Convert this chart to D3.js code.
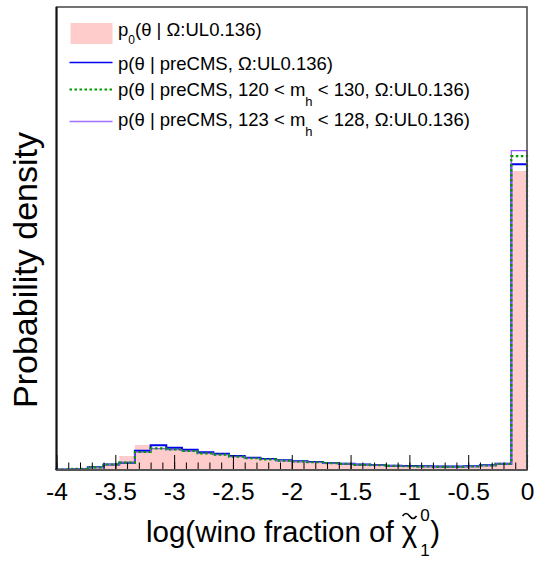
<!DOCTYPE html>
<html>
<head>
<meta charset="utf-8">
<script src="https://d3js.org/d3.v7.min.js"></script>
<style>
  body { margin: 0; background: #fff; }
  text { font-family: "Liberation Sans", Arial, sans-serif; }
</style>
</head>
<body>
<div id="chart"></div>
<script>
// 30 bins from -4 to 0 (log wino fraction)
var xMin = -4, xMax = 0, nBins = 30;

// probability density per bin
var prior   = [0.004, 0.011, 0.041, 0.081, 0.189, 0.338, 0.301, 0.284, 0.264, 0.230,
               0.209, 0.180, 0.155, 0.139, 0.126, 0.112, 0.101, 0.089, 0.081, 0.068,
               0.062, 0.054, 0.049, 0.045, 0.041, 0.041, 0.045, 0.057, 0.081, 4.041];
var preCMS  = [0.007, 0.014, 0.036, 0.074, 0.099, 0.261, 0.334, 0.301, 0.274, 0.239,
               0.220, 0.189, 0.166, 0.149, 0.131, 0.118, 0.108, 0.095, 0.086, 0.073,
               0.068, 0.059, 0.054, 0.050, 0.046, 0.046, 0.050, 0.064, 0.086, 4.131];
var mh120   = [0.007, 0.014, 0.036, 0.074, 0.099, 0.243, 0.291, 0.277, 0.257, 0.226,
               0.207, 0.180, 0.159, 0.143, 0.127, 0.115, 0.105, 0.092, 0.084, 0.070,
               0.065, 0.057, 0.051, 0.047, 0.043, 0.043, 0.047, 0.061, 0.084, 4.243];
var mh123   = [0.007, 0.014, 0.036, 0.074, 0.098, 0.242, 0.289, 0.276, 0.256, 0.225,
               0.206, 0.179, 0.158, 0.142, 0.127, 0.115, 0.104, 0.092, 0.083, 0.070,
               0.065, 0.056, 0.051, 0.047, 0.043, 0.043, 0.047, 0.061, 0.084, 4.315];

var xTicks = [-4, -3.5, -3, -2.5, -2, -1.5, -1, -0.5, 0];
var xTickLabels = ["-4", "-3.5", "-3", "-2.5", "-2", "-1.5", "-1", "-0.5", "0"];
var yMax = 6.257;

var W = 538, H = 564;
var margin = {top: 7, right: 11, bottom: 94, left: 56.5};

var svg = d3.select("#chart").append("svg")
    .attr("width", W).attr("height", H);

var x = d3.scaleLinear().domain([xMin, xMax]).range([margin.left, W - margin.right]);
var y = d3.scaleLinear().domain([0, yMax]).range([H - margin.bottom, margin.top]);

var binW = (xMax - xMin) / nBins;
function edges(vals) {
    // step points, last value repeated at the right edge
    var pts = vals.map(function(v, i) { return [xMin + i * binW, v]; });
    pts.push([xMax, vals[vals.length - 1]]);
    return pts;
}

// prior filled histogram
var area = d3.area().curve(d3.curveStepAfter)
    .x(function(d) { return x(d[0]); })
    .y0(y(0))
    .y1(function(d) { return y(d[1]); });
svg.append("path").datum(edges(prior))
    .attr("d", area)
    .attr("fill", "#ffcccc")
    .attr("stroke", "none");

// outline histograms
var line = d3.line().curve(d3.curveStepAfter)
    .x(function(d) { return x(d[0]); })
    .y(function(d) { return y(d[1]); });
function outline(vals, color, width, dash) {
    var pts = edges(vals);
    var d = "M" + x(xMin) + "," + y(0) + "L" + line(pts).slice(1) + "L" + x(xMax) + "," + y(0);
    svg.append("path")
        .attr("d", d)
        .attr("fill", "none")
        .attr("stroke", color)
        .attr("stroke-width", width)
        .attr("stroke-dasharray", dash || null);
}
outline(preCMS, "#0000ee", 2);
outline(mh123, "#9955ff", 1.2);
outline(mh120, "#009900", 2.2, "2.5,2.5");

// minor ticks
var minorTicks = d3.range(0, 41).map(function(i) { return xMin + i * 0.1; });
svg.append("g")
    .attr("transform", "translate(0," + y(0) + ")")
    .call(d3.axisBottom(x).tickValues(minorTicks).tickSize(-7.5).tickFormat(""))
    .call(function(g) { g.select(".domain").remove(); })
    .selectAll("line").attr("stroke", "#000");

// major ticks with labels
var xAxis = svg.append("g")
    .attr("transform", "translate(0," + y(0) + ")")
    .call(d3.axisBottom(x).tickValues(xTicks).tickSize(-15).tickPadding(13)
        .tickFormat(function(d, i) { return xTickLabels[i]; }));
xAxis.select(".domain").remove();
xAxis.selectAll("line").attr("stroke", "#000");
xAxis.selectAll("text").attr("font-size", 24.5).attr("fill", "#000")
    .style("font-family", "'Liberation Sans', Arial, sans-serif");

// frame
svg.append("rect")
    .attr("x", x(xMin)).attr("y", y(yMax))
    .attr("width", x(xMax) - x(xMin)).attr("height", y(0) - y(yMax))
    .attr("fill", "none").attr("stroke", "#444").attr("stroke-width", 1.5);
svg.append("line")
    .attr("x1", x(xMin)).attr("x2", x(xMin)).attr("y1", y(yMax)).attr("y2", y(0))
    .attr("stroke", "#111").attr("stroke-width", 2);
svg.append("line")
    .attr("x1", x(xMin)).attr("x2", x(xMax)).attr("y1", y(0)).attr("y2", y(0))
    .attr("stroke", "#555").attr("stroke-width", 2);

// y title
svg.append("text")
    .attr("transform", "translate(37,270) rotate(-90)")
    .attr("text-anchor", "middle")
    .attr("font-size", 34)
    .text("Probability density");

// x title
var tx = 146, ty = 542, tfs = 29.5;
var xt = svg.append("text")
    .attr("x", tx).attr("y", ty)
    .attr("font-size", tfs)
    .text("log(wino fraction of\u00a0");
var tw = xt.node().getComputedTextLength();
var chiX = tx + tw;
var chi = svg.append("text").attr("x", chiX).attr("y", ty).attr("font-size", tfs).text("χ");
var cw = chi.node().getComputedTextLength();
// tilde accent over chi
var cx = chiX + cw / 2;
svg.append("path")
    .attr("d", "M" + (cx - 7) + ",516 q3.5,-5 7,0 t7,0")
    .attr("fill", "none").attr("stroke", "#000").attr("stroke-width", 1.6);
svg.append("text").attr("x", chiX + cw + 3).attr("y", 521).attr("font-size", 17).text("0");
svg.append("text").attr("x", chiX + cw + 3).attr("y", 556).attr("font-size", 17).text("1");
svg.append("text").attr("x", chiX + cw + 13).attr("y", ty).attr("font-size", tfs).text(")");

// legend
var legX = 70.5, legLen = 42, legTextX = 118;
var fs = 18.5;
svg.append("rect").attr("x", legX).attr("y", 23).attr("width", legLen).attr("height", 21)
    .attr("fill", "#ffcccc");
var t1 = svg.append("text").attr("x", legTextX).attr("y", 36).attr("font-size", fs);
t1.append("tspan").text("p");
t1.append("tspan").attr("font-size", 12).attr("dy", 8).text("0");
t1.append("tspan").attr("dy", -8).text("(θ | Ω:UL0.136)");

svg.append("line").attr("x1", legX - 1).attr("x2", legX + legLen).attr("y1", 62.5).attr("y2", 62.5)
    .attr("stroke", "#0000ee").attr("stroke-width", 1.5);
svg.append("text").attr("x", legTextX).attr("y", 70).attr("font-size", fs)
    .text("p(θ | preCMS, Ω:UL0.136)");

svg.append("line").attr("x1", legX - 1).attr("x2", legX + legLen).attr("y1", 89.5).attr("y2", 89.5)
    .attr("stroke", "#009900").attr("stroke-width", 2).attr("stroke-dasharray", "2.5,2.5");
var t3 = svg.append("text").attr("x", legTextX).attr("y", 96).attr("font-size", fs);
t3.append("tspan").text("p(θ | preCMS, 120 < m");
t3.append("tspan").attr("font-size", 13).attr("dy", 10).text("h");
t3.append("tspan").attr("dy", -10).text(" < 130, Ω:UL0.136)");

svg.append("line").attr("x1", legX - 1).attr("x2", legX + legLen).attr("y1", 121.5).attr("y2", 121.5)
    .attr("stroke", "#a070ff").attr("stroke-width", 1.4);
var t4 = svg.append("text").attr("x", legTextX).attr("y", 126).attr("font-size", fs);
t4.append("tspan").text("p(θ | preCMS, 123 < m");
t4.append("tspan").attr("font-size", 13).attr("dy", 10).text("h");
t4.append("tspan").attr("dy", -10).text(" < 128, Ω:UL0.136)");
</script>
</body>
</html>
